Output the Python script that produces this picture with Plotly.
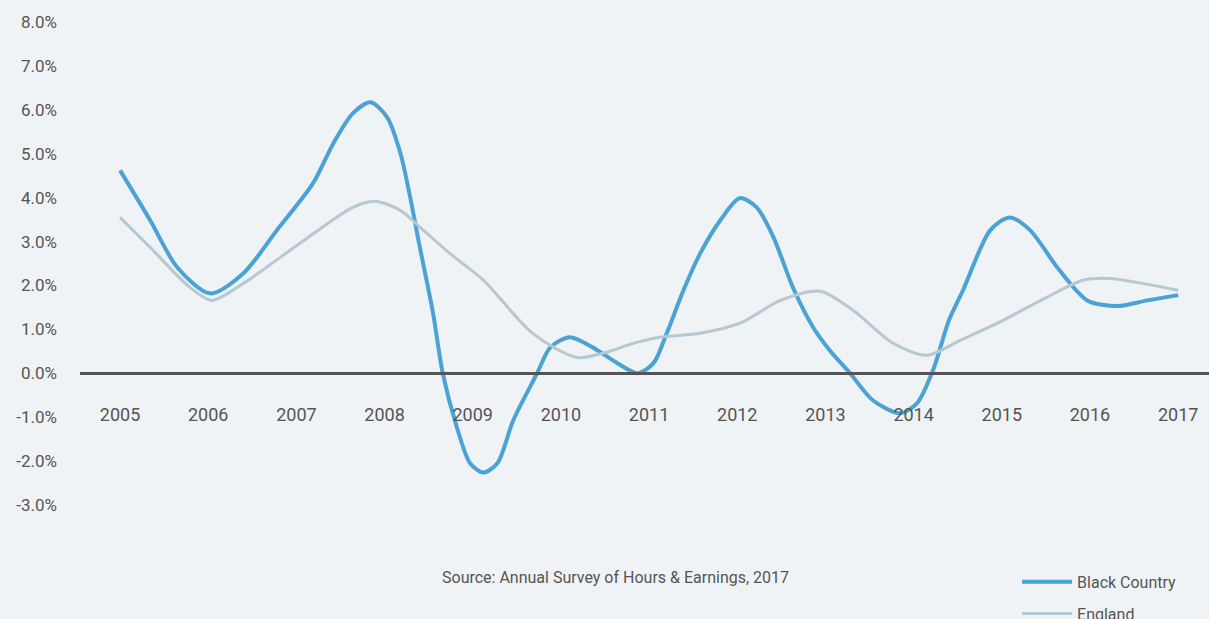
import plotly.graph_objects as go

# Black Country series (decimal year, % change)
bc_x = [2005.00, 2005.34, 2005.65, 2006.02, 2006.40, 2006.78, 2007.19, 2007.42, 2007.64, 2007.84,
        2008.03, 2008.18, 2008.29, 2008.40, 2008.55, 2008.66, 2008.82, 2008.97, 2009.12, 2009.28,
        2009.46, 2009.73, 2009.88, 2010.10, 2010.36, 2010.64, 2010.87, 2011.05, 2011.20, 2011.39,
        2011.58, 2011.81, 2012.03, 2012.22, 2012.41, 2012.63, 2012.86, 2013.05, 2013.28, 2013.54,
        2013.85, 2014.04, 2014.22, 2014.40, 2014.56, 2014.87, 2015.09, 2015.32, 2015.63, 2015.97,
        2016.31, 2016.65, 2017.00]
bc_y = [4.62, 3.49, 2.41, 1.82, 2.28, 3.26, 4.33, 5.24, 5.92, 6.17,
        5.83, 5.01, 4.01, 2.87, 1.37, 0.00, -1.23, -2.05, -2.26, -2.05,
        -1.07, 0.00, 0.59, 0.82, 0.59, 0.23, 0.00, 0.23, 0.91, 1.89,
        2.73, 3.49, 3.99, 3.78, 3.10, 1.96, 1.05, 0.52, 0.00, -0.62,
        -0.91, -0.68, 0.07, 1.20, 1.89, 3.26, 3.55, 3.26, 2.41, 1.66,
        1.53, 1.66, 1.78]

# England series
en_x = [2005.00, 2005.34, 2005.79, 2006.04, 2006.40, 2007.04, 2007.64, 2007.89, 2008.18, 2008.40,
        2008.74, 2009.12, 2009.68, 2010.18, 2010.52, 2010.82, 2011.12, 2011.58, 2012.03, 2012.49,
        2012.94, 2013.31, 2013.77, 2014.15, 2014.53, 2014.95, 2015.51, 2015.92, 2016.23, 2016.53,
        2017.00]
en_y = [3.55, 2.87, 1.96, 1.66, 2.05, 2.96, 3.78, 3.92, 3.71, 3.33,
        2.73, 2.12, 0.91, 0.36, 0.48, 0.68, 0.82, 0.91, 1.14, 1.66,
        1.87, 1.44, 0.68, 0.41, 0.75, 1.14, 1.73, 2.12, 2.16, 2.07,
        1.89]

years = list(range(2005, 2018))
year_labels = [str(y) for y in years]
y_ticks = [8, 7, 6, 5, 4, 3, 2, 1, 0, -1, -2, -3]
y_labels = [f"{v:.1f}%" for v in y_ticks]

BG = "#eff3f6"
TXT = "#555555"
FONT = "Roboto"

fig = go.Figure()
fig.add_trace(go.Scatter(x=bc_x, y=bc_y, mode="lines", name="Black Country",
                         legendgroup="a",
                         line=dict(color="#4aa3d4", width=4, shape="spline", smoothing=0.8)))
fig.add_trace(go.Scatter(x=en_x, y=en_y, mode="lines", name="England",
                         legendgroup="b",
                         line=dict(color="#b6c8d0", width=3, shape="spline", smoothing=0.8)))

fig.update_layout(
    width=1209, height=619,
    paper_bgcolor=BG, plot_bgcolor=BG,
    margin=dict(l=80, r=0, t=22, b=114, autoexpand=False),
    font=dict(family=FONT, color=TXT, size=17),
    showlegend=True,
    legend=dict(x=0.83, y=-0.124, xanchor="left", yanchor="top",
                bgcolor="rgba(0,0,0,0)", font=dict(size=16, color=TXT),
                itemwidth=50, traceorder="grouped", tracegroupgap=8),
    annotations=[dict(text="Source: Annual Survey of Hours & Earnings, 2017",
                      xref="paper", yref="paper", x=(615 - 80) / 1129, y=-0.151,
                      xanchor="center", yanchor="middle", showarrow=False,
                      font=dict(size=16, color=TXT))],
)

fig.update_xaxes(range=[2004.546, 2017.35], tickmode="array", tickvals=years, ticktext=year_labels,
                 showgrid=False, zeroline=False, anchor="free", position=(505 - 373) / 483,
                 showline=True, linecolor="#555555", linewidth=3,
                 ticks="", ticklabelstandoff=24, tickfont=dict(size=18, color=TXT))
fig.update_yaxes(range=[-3, 8], tickmode="array", tickvals=y_ticks, ticktext=y_labels,
                 showgrid=False, zeroline=False, showline=False,
                 ticks="", ticklabelstandoff=22, tickfont=dict(size=17, color=TXT))

fig.write_html("out.html")
